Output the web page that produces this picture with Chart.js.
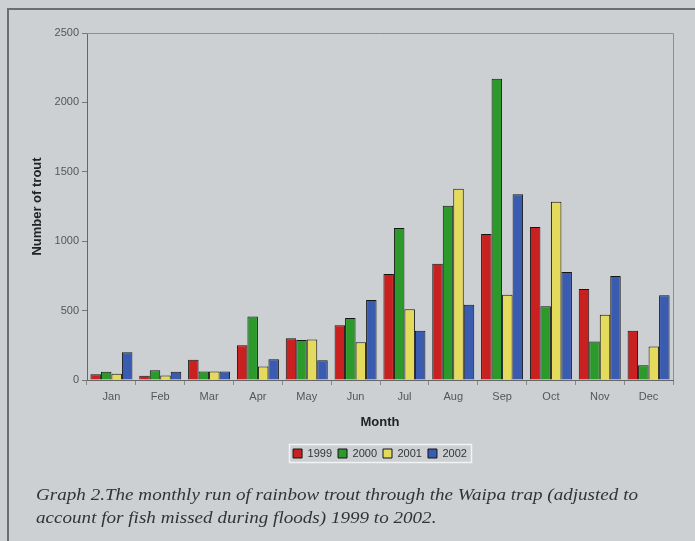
<!DOCTYPE html>
<html>
<head>
<meta charset="utf-8">
<script src="https://cdn.jsdelivr.net/npm/chart.js@4/dist/chart.umd.min.js"></script>
<style>
  html, body { margin: 0; padding: 0; background: #cdd0d3; }
  #wrap { position: relative; width: 695px; height: 541px; overflow: hidden; background: #cdd0d3; }
  #frame { position: absolute; left: 7px; top: 8px; width: 720px; height: 600px;
           border-top: 2px solid #6b6e72; border-left: 2px solid #6b6e72; }
  #c { position: absolute; left: 0; top: 0; }
  #caption { position: absolute; left: 36px; top: 483px; margin: 0;
             font-family: "Liberation Serif", "DejaVu Serif", serif; font-style: italic;
             font-size: 17px; line-height: 23px; color: #333; }
  #caption span { display: inline-block; white-space: nowrap; transform-origin: 0 0; }
</style>
</head>
<body>
<div id="wrap">
  <div id="frame"></div>
  <canvas id="c" width="695" height="541"></canvas>
  <p id="caption"><span id="cap1">Graph 2.The monthly run of rainbow trout through the Waipa trap (adjusted to</span><br><span id="cap2">account for fish missed during floods) 1999 to 2002.</span></p>
</div>
<script>
// Monthly rainbow trout counts through the Waipa trap
const months = ['Jan', 'Feb', 'Mar', 'Apr', 'May', 'Jun', 'Jul', 'Aug', 'Sep', 'Oct', 'Nov', 'Dec'];
const run1999 = [42, 30, 145, 250, 301, 394, 764, 838, 1052, 1102, 656, 354];
const run2000 = [59, 70, 61, 457, 289, 447, 1095, 1255, 2170, 531, 277, 107];
const run2001 = [45, 32, 61, 97, 291, 272, 509, 1378, 615, 1284, 471, 241];
const run2002 = [200, 59, 61, 150, 142, 577, 354, 543, 1339, 778, 749, 610];
const yTicks = [0, 500, 1000, 1500, 2000, 2500];

const seriesNames = ['1999', '2000', '2001', '2002'];
const seriesColors = ['#c92020', '#2b9a2b', '#e4da5c', '#3a5cb0'];
const seriesValues = [run1999, run2000, run2001, run2002];

const FONT = '"Liberation Sans", Arial, sans-serif';

// stretch the caption's first line to the full text width; second line uses the same squeeze
(function fitCaption() {
  const l1 = document.getElementById('cap1');
  const l2 = document.getElementById('cap2');
  const k = 602 / l1.getBoundingClientRect().width;
  l1.style.transform = 'scaleX(' + k + ')';
  l2.style.transform = 'scaleX(' + k + ')';
})();

// plot frame (top + right edges), legend centred under the plot, light box round the legend
const framePlugin = {
  id: 'framePlugin',
  afterLayout(chart) {
    const lg = chart.legend, a = chart.chartArea;
    if (!lg) return;
    const d = (a.left + a.right) / 2 - (lg.left + lg.right) / 2;
    lg.left += d;
    lg.right += d;
  },
  beforeDatasetsDraw(chart) {
    const { ctx, chartArea: a } = chart;
    ctx.save();
    ctx.strokeStyle = '#8b8e92';
    ctx.lineWidth = 1;
    ctx.beginPath();
    ctx.moveTo(a.left, a.top + 0.5);
    ctx.lineTo(a.right + 0.5, a.top + 0.5);
    ctx.lineTo(a.right + 0.5, a.bottom);
    ctx.stroke();
    ctx.restore();
  },
  afterDraw(chart) {
    const lg = chart.legend;
    if (!lg || !lg.legendHitBoxes || !lg.legendHitBoxes.length) return;
    let x0 = Infinity, x1 = -Infinity, y0 = Infinity, y1 = -Infinity;
    lg.legendHitBoxes.forEach(b => {
      x0 = Math.min(x0, b.left); x1 = Math.max(x1, b.left + b.width);
      y0 = Math.min(y0, b.top); y1 = Math.max(y1, b.top + b.height);
    });
    const { ctx } = chart;
    ctx.save();
    ctx.strokeStyle = '#f2f3f5';
    ctx.lineWidth = 1.5;
    ctx.strokeRect(Math.round(x0 - 4) + 0.5, Math.round(y0 - 4) + 0.5,
                   Math.round(x1 - x0 + 8), Math.round(y1 - y0 + 7));
    ctx.restore();
  }
};

new Chart(document.getElementById('c'), {
  type: 'bar',
  data: {
    labels: months,
    datasets: seriesNames.map((name, i) => ({
      label: name,
      data: seriesValues[i],
      backgroundColor: seriesColors[i],
      borderColor: '#151515',
      borderWidth: 1,
      borderSkipped: 'bottom',
      categoryPercentage: 0.86,
      barPercentage: 1.0
    }))
  },
  options: {
    responsive: false,
    animation: false,
    devicePixelRatio: 1,
    layout: { padding: { top: 33, right: 22, bottom: 72, left: 0 } },
    plugins: {
      tooltip: { enabled: false },
      legend: {
        position: 'bottom',
        labels: {
          boxWidth: 9,
          boxHeight: 9,
          padding: 6,
          color: '#333',
          font: { family: FONT, size: 11 }
        }
      }
    },
    scales: {
      x: {
        afterFit(s) { s.height = 62; },
        grid: { offset: true, drawOnChartArea: false, drawTicks: true, tickLength: 5, color: '#888' },
        border: { display: true, color: '#666', width: 1 },
        ticks: { color: '#555', padding: 5, font: { family: FONT, size: 11 } },
        title: { display: true, text: 'Month', color: '#222', padding: { top: 0, bottom: 12 },
                 font: { family: FONT, size: 13, weight: 'bold' } }
      },
      y: {
        min: 0,
        max: 2500,
        afterFit(s) { s.width = 87; },
        afterBuildTicks(s) { s.ticks = yTicks.map(v => ({ value: v })); },
        grid: { drawOnChartArea: false, drawTicks: true, tickLength: 5, color: '#777' },
        border: { display: true, color: '#666', width: 1 },
        ticks: { color: '#555', padding: 3, font: { family: FONT, size: 11 },
                 callback: v => String(v) },
        title: { display: true, text: 'Number of trout', color: '#222', padding: { top: 30, bottom: 0 },
                 font: { family: FONT, size: 13, weight: 'bold' } }
      }
    }
  },
  plugins: [framePlugin]
});
</script>
</body>
</html>
